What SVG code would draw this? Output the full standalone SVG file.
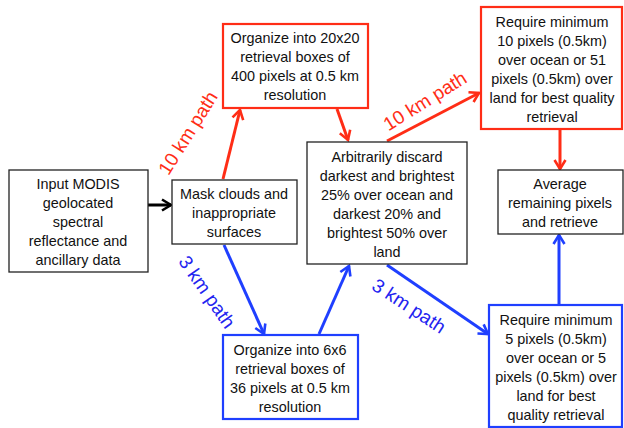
<svg xmlns="http://www.w3.org/2000/svg" width="624" height="428" viewBox="0 0 624 428">
<defs>
<style>
text{font-family:"Liberation Sans",Arial,sans-serif;font-size:14.4px;fill:#111;text-anchor:middle;dominant-baseline:central}
.bk{fill:#fff;stroke:#222;stroke-width:1.3}
.rd{fill:#fff;stroke:#ff2d16;stroke-width:2.2}
.bl{fill:#fff;stroke:#1f3fff;stroke-width:2.2}
.lk{stroke:#000;stroke-width:3;fill:none}
.lr{stroke:#ff2d16;stroke-width:3;fill:none}
.lb{stroke:#1f3fff;stroke-width:3;fill:none}
.tr{fill:#ff2d16;font-size:19px}
.tb{fill:#2323f0;font-size:19px}
</style>
<marker id="ak" viewBox="0 0 14 14" refX="12" refY="7" markerWidth="14" markerHeight="14" markerUnits="userSpaceOnUse" orient="auto"><path d="M3,1.5 L12,7 L3,12.5" fill="none" stroke="#000" stroke-width="2.6"/></marker>
<marker id="ar" viewBox="0 0 14 14" refX="12" refY="7" markerWidth="14" markerHeight="14" markerUnits="userSpaceOnUse" orient="auto"><path d="M3,1.5 L12,7 L3,12.5" fill="none" stroke="#ff2d16" stroke-width="2.6"/></marker>
<marker id="ab" viewBox="0 0 14 14" refX="12" refY="7" markerWidth="14" markerHeight="14" markerUnits="userSpaceOnUse" orient="auto"><path d="M3,1.5 L12,7 L3,12.5" fill="none" stroke="#1f3fff" stroke-width="2.6"/></marker>
</defs>
<rect width="624" height="428" fill="#fff"/>
<g id="connectors">
<line class="lk" x1="148" y1="205" x2="171" y2="205" marker-end="url(#ak)"/>
<line class="lr" x1="223" y1="179" x2="240" y2="110" marker-end="url(#ar)"/>
<line class="lr" x1="337" y1="109" x2="348" y2="140" marker-end="url(#ar)"/>
<line class="lr" x1="387" y1="141" x2="479" y2="93" marker-end="url(#ar)"/>
<line class="lr" x1="560" y1="130" x2="560" y2="169" marker-end="url(#ar)"/>
<line class="lb" x1="224" y1="245" x2="264" y2="334" marker-end="url(#ab)"/>
<line class="lb" x1="319" y1="334" x2="349" y2="266" marker-end="url(#ab)"/>
<line class="lb" x1="387" y1="265" x2="488" y2="334" marker-end="url(#ab)"/>
<line class="lb" x1="559" y1="304" x2="559" y2="235" marker-end="url(#ab)"/>
<text class="tr" transform="translate(188,133) rotate(-58)">10 km path</text>
<text class="tr" transform="translate(425,101) rotate(-32)">10 km path</text>
<text class="tb" transform="translate(207,292) rotate(55)">3 km path</text>
<text class="tb" transform="translate(409,306) rotate(33)">3 km path</text>
</g>
<g id="input">
<rect class="bk" x="9" y="170" width="139" height="102"/>
<text x="78" y="184">Input MODIS</text>
<text x="78" y="203">geolocated</text>
<text x="78" y="222">spectral</text>
<text x="78" y="241">reflectance and</text>
<text x="78" y="260">ancillary data</text>
</g>
<g id="mask">
<rect class="bk" x="172" y="180" width="125" height="64"/>
<text x="234" y="194">Mask clouds and</text>
<text x="234" y="213">inappropriate</text>
<text x="234" y="232">surfaces</text>
</g>
<g id="org20">
<rect class="rd" x="223" y="24" width="145" height="84"/>
<text x="295" y="38">Organize into 20x20</text>
<text x="295" y="57">retrieval boxes of</text>
<text x="295" y="76">400 pixels at 0.5 km</text>
<text x="295" y="95">resolution</text>
</g>
<g id="discard">
<rect class="bk" x="307" y="142" width="160" height="122"/>
<text x="387" y="157">Arbitrarily discard</text>
<text x="387" y="176">darkest and brightest</text>
<text x="387" y="195">25% over ocean and</text>
<text x="387" y="214">darkest 20% and</text>
<text x="387" y="233">brightest 50% over</text>
<text x="387" y="252">land</text>
</g>
<g id="req10">
<rect class="rd" x="481" y="7" width="141" height="122"/>
<text x="552" y="22">Require minimum</text>
<text x="552" y="41">10 pixels (0.5km)</text>
<text x="552" y="60">over ocean or 51</text>
<text x="552" y="79">pixels (0.5km) over</text>
<text x="552" y="98">land for best quality</text>
<text x="552" y="117">retrieval</text>
</g>
<g id="average">
<rect class="bk" x="498" y="170" width="125" height="64"/>
<text x="560" y="184">Average</text>
<text x="560" y="203">remaining pixels</text>
<text x="560" y="222">and retrieve</text>
</g>
<g id="org6">
<rect class="bl" x="223" y="335" width="135" height="84"/>
<text x="290" y="350">Organize into 6x6</text>
<text x="290" y="369">retrieval boxes of</text>
<text x="290" y="388">36 pixels at 0.5 km</text>
<text x="290" y="407">resolution</text>
</g>
<g id="req5">
<rect class="bl" x="489" y="305" width="133" height="122"/>
<text x="556" y="320">Require minimum</text>
<text x="556" y="339">5 pixels (0.5km)</text>
<text x="556" y="358">over ocean or 5</text>
<text x="556" y="377">pixels (0.5km) over</text>
<text x="556" y="396">land for best</text>
<text x="556" y="415">quality retrieval</text>
</g>
</svg>
